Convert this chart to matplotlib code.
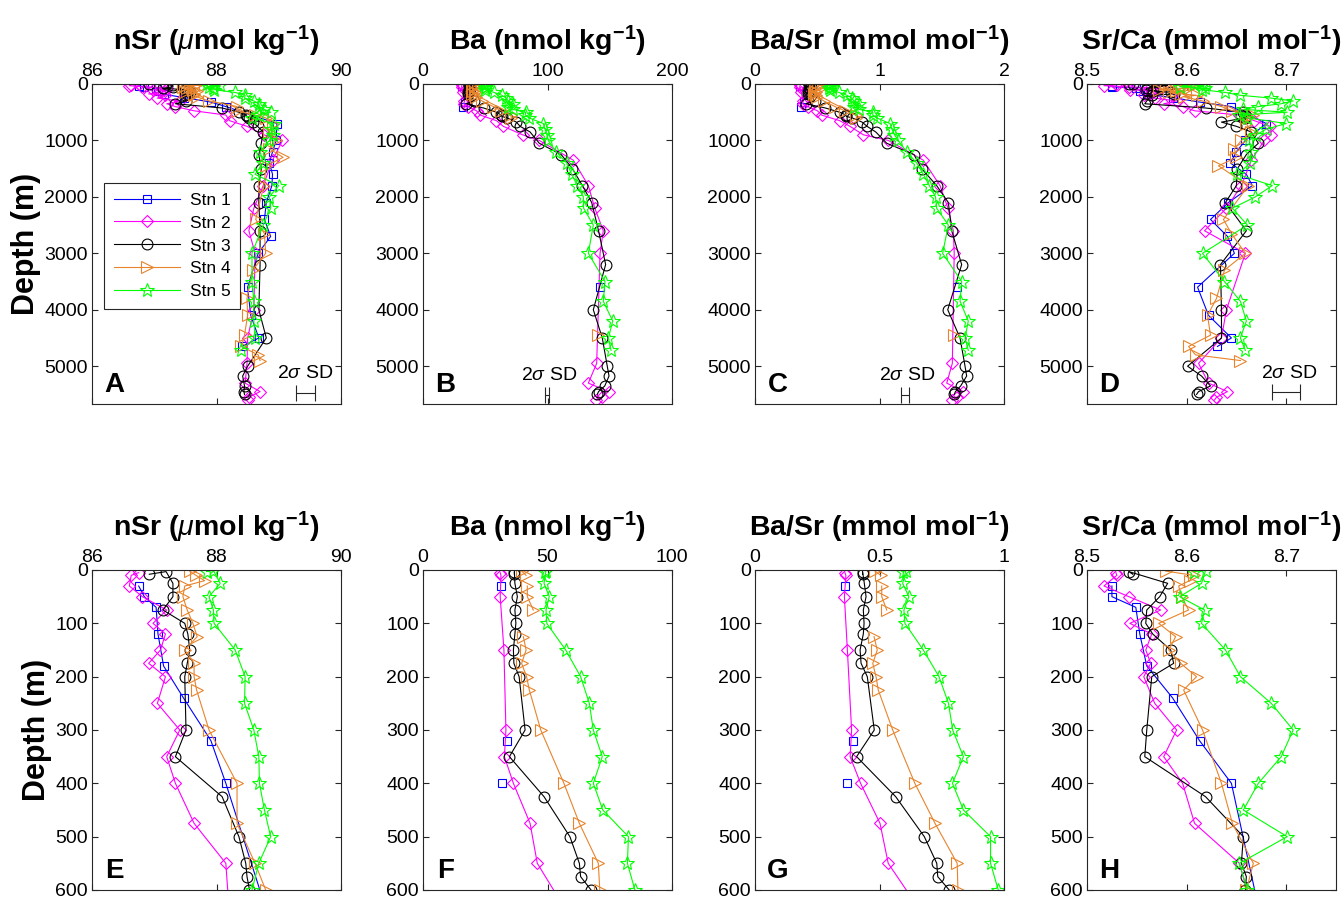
import numpy as np
import matplotlib.pyplot as plt
from matplotlib.ticker import FuncFormatter

plt.rcParams['font.family'] = ['Liberation Sans', 'DejaVu Sans']
plt.rcParams['mathtext.fontset'] = 'custom'
plt.rcParams['mathtext.rm'] = 'Liberation Sans'
plt.rcParams['mathtext.it'] = 'Liberation Sans:italic'
plt.rcParams['mathtext.bf'] = 'Liberation Sans:bold'

nan = np.nan

# ---- Stn 1 ----
s1_depth = [30, 50, 70, 120, 180, 240, 320, 400, 700, 1000, 1200, 1400, 1600, 1800,
            2100, 2400, 2700, 3000, 3600, 4100, 4500, 4650]
s1_nsr = [86.75, 86.84, 87.03, 87.06, 87.15, 87.47, 87.91, 88.15, 88.97, 88.96, 88.90,
          88.85, 88.90, 88.89, 88.80, 88.77, 88.87, 88.67, 88.50, 88.55, 88.68, 88.41]
s1_srca = [8.525, 8.525, 8.549, 8.553, 8.560, 8.586, 8.613, 8.645, 8.680, 8.659, 8.650,
           8.644, 8.660, 8.666, 8.642, 8.624, 8.641, 8.648, 8.611, 8.622, 8.645, 8.631]
s1_ba_depth = [30, 320, 400, 3600]
s1_ba = [31.2, 33.9, 31.9, 142.2]
s1_basr = [0.361, 0.395, 0.368, 1.62]

# ---- Stn 2 ----
s2_depth = [5, 10, 30, 50, 75, 100, 120, 150, 175, 200, 250, 300, 350, 400, 475, 550,
            650, 750, 900, 1000, 1350, 1800, 2200, 2600, 3000, 4000, 4500, 4950, 5300,
            5450, 5550, 5600]
s2_nsr = [86.75, 86.63, 86.60, 86.81, 87.20, 86.98, 87.18, 87.10, 86.91, 87.18, 87.05,
          87.41, 87.20, 87.34, 87.64, 88.15, 88.21, 88.49, 88.76, 89.06, 88.90, 88.75,
          88.60, 88.52, 88.62, 88.60, 88.50, 88.49, 88.46, 88.70, 88.52, 88.50]
s2_srca = [8.529, 8.530, 8.517, 8.542, 8.574, 8.543, 8.565, 8.559, 8.564, 8.557, 8.568,
           8.590, 8.577, 8.596, 8.608, 8.653, 8.668, 8.684, 8.685, 8.678, 8.665, 8.655,
           8.640, 8.618, 8.659, 8.640, 8.635, 8.612, 8.622, 8.641, 8.630, 8.628]
s2_ba_depth = [5, 10, 50, 150, 300, 350, 400, 475, 550, 650, 750, 900, 1000, 1350, 1800,
               2200, 2600, 3000, 4950, 5300, 5450, 5550, 5600]
s2_ba = [31.0, 31.3, 31.0, 32.5, 33.3, 32.7, 36.3, 43.0, 45.9, 59.0, 64.5, 80.0, 93.4,
         120.7, 132.8, 138.0, 144.8, 142.2, 139.5, 132.8, 149.0, 143.5, 139.0]
s2_basr = [0.361, 0.365, 0.359, 0.371, 0.388, 0.382, 0.424, 0.502, 0.535, 0.680, 0.763,
           0.870, 1.071, 1.352, 1.486, 1.550, 1.593, 1.600, 1.585, 1.540, 1.673, 1.620,
           1.585]

# ---- Stn 3 ----
s3_depth = [8, 3, 25, 50, 75, 100, 120, 150, 175, 200, 300, 350, 425, 500, 550, 575, 600,
            675, 750, 850, 1050, 1250, 1500, 1800, 2100, 2600, 3200, 4000, 4500, 5000,
            5175, 5350, 5450, 5500]
s3_nsr = [86.92, 87.19, 87.30, 87.30, 87.14, 87.49, 87.54, 87.57, 87.53, 87.49, 87.51,
          87.34, 88.09, 88.36, 88.47, 88.49, 88.53, 88.58, 88.66, 88.75, 88.72, 88.68,
          88.72, 88.68, 88.68, 88.70, 88.70, 88.68, 88.80, 88.50, 88.42, 88.45, 88.44, 88.45]
s3_srca = [8.546, 8.542, 8.581, 8.573, 8.560, 8.559, 8.566, 8.584, 8.587, 8.565, 8.560,
           8.558, 8.619, 8.657, 8.655, 8.660, 8.659, 8.635, 8.650, 8.665, 8.672, 8.660,
           8.651, 8.650, 8.639, 8.660, 8.634, 8.635, 8.635, 8.601, 8.615, 8.624, 8.612, 8.610]
s3_ba = [36.7, 36.7, 36.9, 37.9, 36.9, 37.3, 36.9, 36.3, 36.5, 38.6, 41.0, 34.7, 48.6,
         59.0, 62.8, 63.3, 67.5, 75.0, 78.0, 86.0, 93.4, 111.0, 120.0, 128.0, 135.5,
         141.0, 146.7, 136.8, 144.0, 148.0, 149.4, 146.0, 141.0, 140.0]
s3_basr = [0.432, 0.432, 0.439, 0.446, 0.435, 0.438, 0.435, 0.422, 0.426, 0.451, 0.479,
           0.408, 0.565, 0.680, 0.730, 0.734, 0.780, 0.860, 0.900, 0.970, 1.058, 1.277,
           1.339, 1.459, 1.553, 1.580, 1.660, 1.548, 1.647, 1.687, 1.700, 1.652, 1.610, 1.600]

# ---- Stn 4 ----
s4_depth = [2, 10, 20, 30, 50, 75, 100, 125, 150, 175, 200, 225, 300, 400, 475, 550, 600,
            700, 850, 1000, 1150, 1300, 1450, 1800, 2400, 2650, 3000, 3300, 3800, 4100,
            4450, 4650, 4800, 4900]
s4_nsr = [87.57, 87.67, 87.81, 87.49, 87.46, 87.53, 87.62, 87.69, 87.49, 87.64, 87.64,
          87.68, 87.88, 88.33, 88.33, 88.62, 88.79, 88.90, 88.85, 88.95, 88.85, 89.07,
          88.80, 88.76, 88.63, 88.77, 88.79, 88.58, 88.49, 88.50, 88.45, 88.40, 88.67, 88.70]
s4_srca = [8.579, 8.607, 8.603, 8.592, 8.595, 8.602, 8.572, 8.589, 8.582, 8.594, 8.610,
           8.597, 8.616, 8.635, 8.646, 8.667, 8.660, 8.660, 8.665, 8.655, 8.648, 8.650,
           8.632, 8.662, 8.637, 8.645, 8.659, 8.638, 8.630, 8.621, 8.624, 8.602, 8.609, 8.654]
s4_ba = [39.6, 41.4, nan, 41.9, 41.9, 44.3, nan, 40.3, 41.4, 39.6, 41.6, 42.7, 47.3, 56.6,
         62.8, 70.4, 71.0, nan, nan, nan, nan, nan, nan, nan, nan, nan, nan, nan, nan,
         nan, 140.8, nan, nan, nan]
s4_basr = [0.482, 0.505, nan, 0.509, 0.509, 0.529, nan, 0.478, 0.491, 0.473, 0.486, 0.495,
           0.553, 0.642, 0.723, 0.812, 0.815, nan, nan, nan, nan, nan, nan, nan, nan, nan,
           nan, nan, nan, nan, 1.60, nan, nan, nan]

# ---- Stn 5 ----
s5_depth = [3, 1, 25, 50, 75, 100, 150, 200, 250, 300, 350, 400, 450, 500, 550, 600,
            700, 800, 900, 1000, 1200, 1400, 1600, 1800, 2000, 2200, 2500, 3000, 3500,
            3850, 4200, 4500, 4720]
s5_nsr = [87.84, 87.95, 88.06, 87.88, 87.95, 87.96, 88.30, 88.46, 88.45, 88.60, 88.68,
          88.69, 88.77, 88.87, 88.68, 88.57, 88.92, 88.87, 88.90, 88.85, 88.70, 88.75,
          88.62, 89.00, 88.85, 88.87, 88.75, 88.57, 88.57, 88.60, 88.60, 88.62, 88.39]
s5_srca = [8.607, 8.619, 8.615, 8.593, 8.618, 8.615, 8.639, 8.654, 8.685, 8.707, 8.695,
           8.672, 8.657, 8.701, 8.653, 8.661, 8.700, 8.680, 8.670, 8.663, 8.665, 8.664,
           8.651, 8.686, 8.669, 8.646, 8.661, 8.616, 8.638, 8.654, 8.660, 8.654, 8.659]
s5_ba = [49.0, 49.4, 48.6, 50.7, 49.4, 49.7, 57.3, 63.3, 66.8, 68.4, 72.0, 68.4, 72.2,
         82.5, 82.1, 85.1, 96.6, 98.0, 99.5, 100.6, 106.8, 115.4, 119.4, 124.0, 128.8,
         129.0, 136.8, 132.8, 146.2, 144.8, 152.4, 148.9, 151.0]
s5_basr = [0.596, 0.606, 0.593, 0.618, 0.598, 0.602, 0.676, 0.739, 0.777, 0.794, 0.837,
           0.793, 0.837, 0.946, 0.946, 0.977, 1.084, 1.100, 1.120, 1.150, 1.218, 1.299,
           1.352, 1.400, 1.450, 1.459, 1.553, 1.507, 1.660, 1.647, 1.713, 1.687, 1.713]

labels = ['Stn 1', 'Stn 2', 'Stn 3', 'Stn 4', 'Stn 5']
colors = ['#0000ff', '#ff00ff', '#000000', '#e8842c', '#00ff00']
markers = ['s', 'D', 'o', '>', '*']
msizes = [6.2, 6.5, 7.8, 8, 10]

stations = [
    dict(depth=s1_depth, nsr=s1_nsr, srca=s1_srca, ba_depth=s1_ba_depth, ba=s1_ba, basr=s1_basr, ba_ls='none'),
    dict(depth=s2_depth, nsr=s2_nsr, srca=s2_srca, ba_depth=s2_ba_depth, ba=s2_ba, basr=s2_basr, ba_ls='-'),
    dict(depth=s3_depth, nsr=s3_nsr, srca=s3_srca, ba_depth=s3_depth, ba=s3_ba, basr=s3_basr, ba_ls='-'),
    dict(depth=s4_depth, nsr=s4_nsr, srca=s4_srca, ba_depth=s4_depth, ba=s4_ba, basr=s4_basr, ba_ls='-'),
    dict(depth=s5_depth, nsr=s5_nsr, srca=s5_srca, ba_depth=s5_depth, ba=s5_ba, basr=s5_basr, ba_ls='-'),
]

var_keys = ['nsr', 'ba', 'basr', 'srca']
titles = ['nSr ($\\mu$mol kg$^{\\mathbf{-1}}$)', 'Ba (nmol kg$^{\\mathbf{-1}}$)',
          'Ba/Sr (mmol mol$^{\\mathbf{-1}}$)', 'Sr/Ca (mmol mol$^{\\mathbf{-1}}$)']
top_xlim = [(86, 90), (0, 200), (0, 2), (8.5, 8.75)]
top_xticks = [[86, 88, 90], [0, 100, 200], [0, 1, 2], [8.5, 8.6, 8.7]]
bot_xlim = [(86, 90), (0, 100), (0, 1), (8.5, 8.75)]
bot_xticks = [[86, 88, 90], [0, 50, 100], [0, 0.5, 1], [8.5, 8.6, 8.7]]
top_letters = ['A', 'B', 'C', 'D']
bot_letters = ['E', 'F', 'G', 'H']

# 2 sigma SD bars: centre, depth, half width, text x, text depth
sd_x = [89.43, 99.3, 1.205, 8.6995]
sd_depth = [5478, 5513, 5513, 5460]
sd_half = [0.145, 1.7, 0.031, 0.0142]
sd_text_x = [89.43, 101, 1.22, 8.703]
sd_text_depth = [5124, 5160, 5160, 5124]

fig = plt.figure(figsize=(13.41, 8.99), dpi=100)
lefts = [92 / 1341, 423 / 1341, 755 / 1341, 1087 / 1341]
w = 249 / 1341
h = 320 / 899
fmt = FuncFormatter(lambda v, p: '%g' % v)


def style_axes(ax):
    ax.xaxis.set_ticks_position('both')
    ax.yaxis.set_ticks_position('both')
    ax.tick_params(direction='in', length=4, width=0.8, labelsize=14, color='#262626',
                   labeltop=True, labelbottom=False, pad=3)
    ax.xaxis.set_major_formatter(fmt)
    for s in ax.spines.values():
        s.set_color('#262626')
        s.set_linewidth(0.8)


for row in range(2):
    bottom = 1 - 404 / 899 if row == 0 else 1 - 890 / 899
    for j in range(4):
        ax = fig.add_axes([lefts[j], bottom, w, h])
        key = var_keys[j]
        for i, st in enumerate(stations):
            if key in ('ba', 'basr'):
                d = st['ba_depth']
                ls = st['ba_ls']
            else:
                d = st['depth']
                ls = '-'
            ax.plot(st[key], d, ls=ls, color=colors[i], marker=markers[i], ms=msizes[i],
                    mfc='none', mec=colors[i], mew=0.8, lw=0.8, label=labels[i])
        if row == 0:
            ax.set_xlim(top_xlim[j])
            ax.set_xticks(top_xticks[j])
            ax.set_ylim(5670, 0)
            ax.set_yticks(range(0, 5001, 1000))
            letter = top_letters[j]
            ax.errorbar(sd_x[j], sd_depth[j], xerr=sd_half[j], color='#262626', lw=0.8,
                        capsize=6, capthick=0.8)
            ax.text(sd_text_x[j], sd_text_depth[j], '2$\\sigma$ SD', ha='center',
                    va='center', fontsize=14)
        else:
            ax.set_xlim(bot_xlim[j])
            ax.set_xticks(bot_xticks[j])
            ax.set_ylim(600, 0)
            ax.set_yticks(range(0, 601, 100))
            letter = bot_letters[j]
        style_axes(ax)
        ax.set_title(titles[j], fontsize=20.5, fontweight='bold', pad=9)
        ax.text(0.09, 0.06, letter, transform=ax.transAxes, ha='center', va='center',
                fontsize=20, fontweight='bold')
        if j == 0:
            ax.set_ylabel('Depth (m)', fontsize=22, fontweight='bold', labelpad=2)
        if row == 0 and j == 0:
            handles, labs = ax.get_legend_handles_labels()
            leg = ax.legend(handles[:5], labs[:5], loc='upper left',
                            bbox_to_anchor=(0.049, 0.691), borderaxespad=0,
                            fontsize=12.5, handlelength=3.8, labelspacing=0.45,
                            fancybox=False, edgecolor='#262626', framealpha=1,
                            borderpad=0.55, handletextpad=0.6)
            leg.get_frame().set_linewidth(0.8)

fig.savefig('out.png', dpi=100)
